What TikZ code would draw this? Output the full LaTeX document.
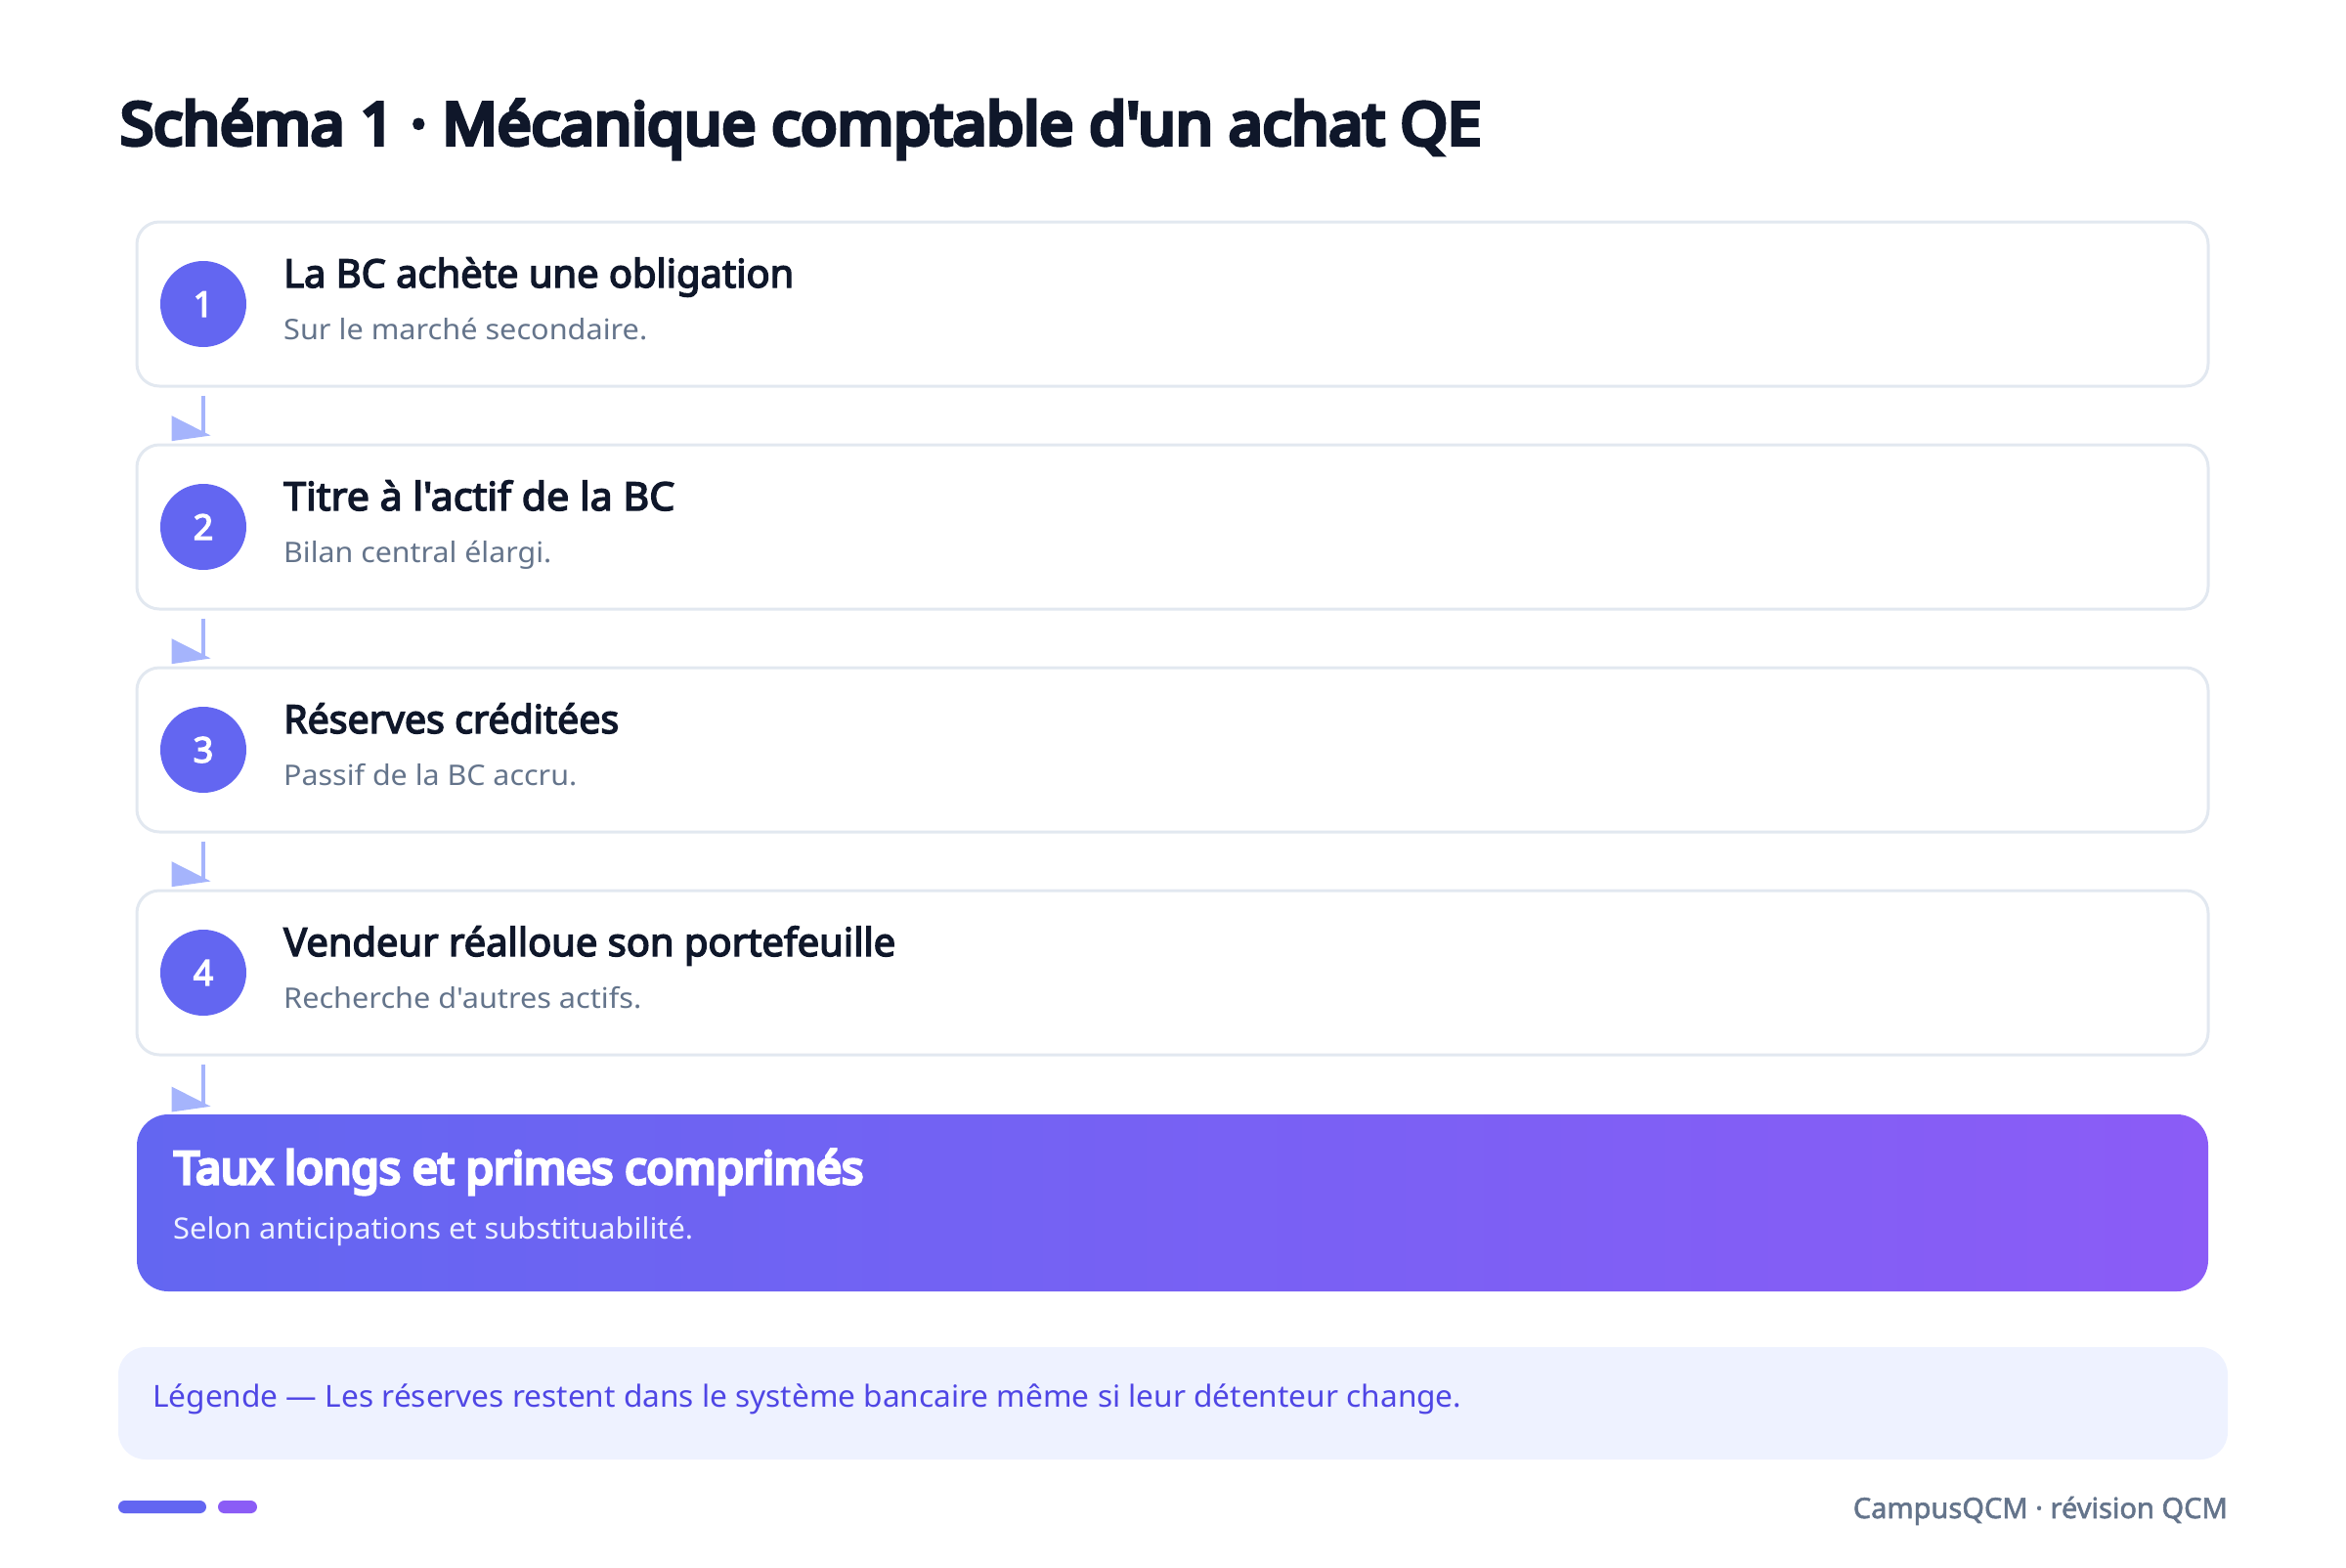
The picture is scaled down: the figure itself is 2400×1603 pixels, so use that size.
\documentclass[tikz,border=0pt]{standalone}
\usepackage{fontspec}
\usepackage{graphicx}
\setmainfont{Noto Sans}[Ligatures=TeXOff, AutoFakeBold=3.6]
\newfontfamily\heavyfont{Noto Sans}[Ligatures=TeXOff, AutoFakeBold=7]
\newfontfamily\semifont{Noto Sans}[Ligatures=TeXOff, AutoFakeBold=2]
\definecolor{ink}{HTML}{0F172A}
\definecolor{slate}{HTML}{64748B}
\definecolor{indigo}{HTML}{6366F1}
\definecolor{violet}{HTML}{8B5CF6}
\definecolor{boxline}{HTML}{E2E8F0}
\definecolor{arrowc}{HTML}{A5B4FC}
\definecolor{legbg}{HTML}{EEF2FF}
\definecolor{legtext}{HTML}{4F46E5}
\newcommand\fitw[2]{\resizebox{#1pt}{\height}{#2}}
\tikzset{
  stepbox/.style={draw=boxline, line width=3pt, fill=white, rounded corners=23pt,
    minimum width=2119pt, minimum height=168pt, inner sep=0pt},
  numdot/.style={circle, fill=indigo, minimum size=88pt, inner sep=0pt, text=white,
    font=\fontsize{36}{40}\selectfont\bfseries},
  ttl/.style={anchor=base west, inner sep=0pt, text=ink, font=\fontsize{40}{48}\selectfont\bfseries},
  subt/.style={anchor=base west, inner sep=0pt, text=slate, font=\fontsize{29}{35}\selectfont},
  flowline/.style={draw=arrowc, line width=4pt},
  flowhead/.style={fill=arrowc},
}
\begin{document}
\begin{tikzpicture}[x=1pt, y=-1pt]
\useasboundingbox (0,0) rectangle (2400,1603);

\node[anchor=base west, inner sep=0pt, text=ink, font=\heavyfont\fontsize{60}{70}\selectfont\bfseries]
  (title) at (123,148) {\fitw{1392}{Schéma 1 · Mécanique comptable d'un achat QE}};

% step 1
\node[stepbox] (b1) at (1199.5,311) {};
\node[numdot] (c1) at (208,311) {1};
\node[ttl] (t1) at (290,294) {\fitw{522}{La BC achète une obligation}};
\node[subt] (s1) at (290,347) {\fitw{372}{Sur le marché secondaire.}};
% step 2
\node[stepbox] (b2) at (1199.5,539) {};
\node[numdot] (c2) at (208,539) {2};
\node[ttl] (t2) at (290,522) {\fitw{400}{Titre à l'actif de la BC}};
\node[subt] (s2) at (290,575) {\fitw{274}{Bilan central élargi.}};
% step 3
\node[stepbox] (b3) at (1199.5,767) {};
\node[numdot] (c3) at (208,767) {3};
\node[ttl] (t3) at (290,750) {\fitw{343}{Réserves créditées}};
\node[subt] (s3) at (290,803) {\fitw{300}{Passif de la BC accru.}};
% step 4
\node[stepbox] (b4) at (1199.5,995) {};
\node[numdot] (c4) at (208,995) {4};
\node[ttl] (t4) at (290,978) {\fitw{626}{Vendeur réalloue son portefeuille}};
\node[subt] (s4) at (290,1031) {\fitw{366}{Recherche d'autres actifs.}};

% result
\node[rounded corners=32pt, left color=indigo, right color=violet, minimum width=2119pt,
  minimum height=181pt, inner sep=0pt] (res) at (1199.5,1230.5) {};
\node[anchor=base west, inner sep=0pt, text=white, font=\heavyfont\fontsize{46}{54}\selectfont\bfseries]
  (rt) at (178,1211) {\fitw{705}{Taux longs et primes comprimés}};
\node[anchor=base west, inner sep=0pt, text=legbg, font=\fontsize{30}{36}\selectfont]
  (rs) at (177,1267) {\fitw{532}{Selon anticipations et substituabilité.}};

% connectors
\draw[flowline] ([yshift=-8pt]b1.south -| c1.center) -- ([yshift=8pt]b2.north -| c1.center) coordinate (e1);
\draw[flowline] ([yshift=-8pt]b2.south -| c2.center) -- ([yshift=8pt]b3.north -| c2.center) coordinate (e2);
\draw[flowline] ([yshift=-8pt]b3.south -| c3.center) -- ([yshift=8pt]b4.north -| c3.center) coordinate (e3);
\draw[flowline] ([yshift=-8pt]b4.south -| c4.center) -- ([yshift=8pt]res.north -| c4.center) coordinate (e4);
\foreach \e in {e1,e2,e3,e4}{
  \fill[flowhead] (\e) ++(-32.5,-20.3) -- ++(0,26) -- ++(40,-5.7) -- cycle;
}

% legend
\node[fill=legbg, rounded corners=28pt, minimum width=2158pt, minimum height=115pt, inner sep=0pt]
  (leg) at (1200,1435.5) {};
\node[anchor=base west, inner sep=0pt, text=legtext, font=\fontsize{31}{36}\selectfont]
  (legt) at (156,1439) {\fitw{1339}{Légende — Les réserves restent dans le système bancaire même si leur détenteur change.}};

% footer
\fill[indigo, rounded corners=6.5pt] (121,1535) rectangle (211,1548);
\fill[violet, rounded corners=6.5pt] (223,1535) rectangle (263,1548);
\node[anchor=base east, inner sep=0pt, text=slate, font=\semifont\fontsize{29}{34}\selectfont\bfseries]
  (foot) at (2279,1553) {\fitw{383}{CampusQCM · révision QCM}};
\end{tikzpicture}
\end{document}
